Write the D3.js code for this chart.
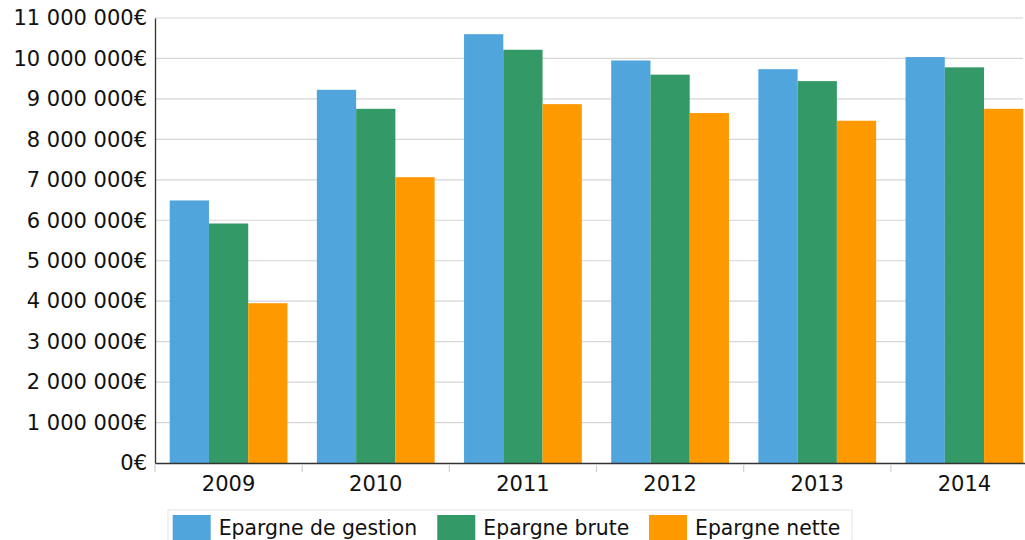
<!DOCTYPE html>
<html>
<head>
<meta charset="utf-8">
<script src="https://cdn.jsdelivr.net/npm/d3@7"></script>
<style>
  body { margin: 0; background: #fff; }
  svg { display: block; font-family: "DejaVu Sans", Verdana, sans-serif; }
</style>
</head>
<body>
<svg width="1025" height="540"></svg>
<script>
// data
var years = ["2009", "2010", "2011", "2012", "2013", "2014"];
var seriesNames = ["Epargne de gestion", "Epargne brute", "Epargne nette"];
var gestion = [6490000, 9225000, 10600000, 9950000, 9735000, 10035000];
var brute   = [5920000, 8755000, 10215000, 9600000, 9440000, 9780000];
var nette   = [3950000, 7065000, 8870000, 8650000, 8460000, 8755000];
var colors = ["#50a5dc", "#339966", "#ff9900"];
var yTicks = [0, 1e6, 2e6, 3e6, 4e6, 5e6, 6e6, 7e6, 8e6, 9e6, 10e6, 11e6];

var svg = d3.select("svg");
var plotLeft = 155, plotRight = 1038, plotTop = 18, plotBottom = 463;

var series = [gestion, brute, nette];
var rows = years.map(function(yr, i) {
  return { year: yr, values: series.map(function(s, k) { return { key: k, value: s[i] }; }) };
});

var x = d3.scaleBand().domain(years).range([plotLeft, plotRight]);
var x1 = d3.scaleBand().domain([0, 1, 2]).range([14.7, x.bandwidth() - 14.7]);
var y = d3.scaleLinear().domain([0, 11e6]).range([plotBottom, plotTop]);

function fmt(v) {
  return d3.format(",")(v).replace(/,/g, " ") + "€";
}

// grid
svg.append("g").selectAll("line")
  .data(yTicks.slice(1))
  .enter().append("line")
    .attr("x1", plotLeft).attr("x2", 1023)
    .attr("y1", function(d) { return y(d); })
    .attr("y2", function(d) { return y(d); })
    .style("stroke", "#d6d6d6")
    .style("stroke-width", 1.2);

// bars
var group = svg.append("g").selectAll("g")
  .data(rows)
  .enter().append("g")
    .attr("transform", function(d) { return "translate(" + x(d.year) + ",0)"; });

group.selectAll("rect")
  .data(function(d) { return d.values; })
  .enter().append("rect")
    .attr("x", function(d) { return x1(d.key); })
    .attr("width", x1.bandwidth())
    .attr("y", function(d) { return y(d.value); })
    .attr("height", function(d) { return plotBottom - y(d.value); })
    .style("fill", function(d) { return colors[d.key]; });

// y axis
var yAxis = svg.append("g")
  .attr("transform", "translate(" + plotLeft + ",0)")
  .call(d3.axisLeft(y).tickValues(yTicks).tickSize(0).tickPadding(8).tickFormat(fmt));
yAxis.select(".domain").style("stroke", "#333").style("stroke-width", 1.3);
yAxis.selectAll("text")
  .style("font-size", "21px")
  .style("font-family", "DejaVu Sans, sans-serif")
  .style("fill", "#111");

// x axis
var xAxis = svg.append("g")
  .attr("transform", "translate(0," + plotBottom + ")")
  .call(d3.axisBottom(x).tickSize(0).tickPadding(13));
xAxis.select(".domain").style("stroke", "#333").style("stroke-width", 1.3);
xAxis.selectAll("text")
  .style("font-size", "21px")
  .style("font-family", "DejaVu Sans, sans-serif")
  .style("fill", "#111");

// category separators under the axis
svg.append("g").selectAll("line")
  .data(years)
  .enter().append("line")
    .attr("x1", function(d) { return x(d); })
    .attr("x2", function(d) { return x(d); })
    .attr("y1", plotBottom + 1)
    .attr("y2", plotBottom + 9)
    .style("stroke", "#cfcfcf")
    .style("stroke-width", 1.2);

// legend
var legendX = [172.7, 437.3, 649];
svg.append("rect")
  .attr("x", 168).attr("y", 510)
  .attr("width", 684).attr("height", 40)
  .style("fill", "#fff")
  .style("stroke", "#e4e4e4");

var item = svg.append("g").selectAll("g")
  .data(seriesNames)
  .enter().append("g")
    .attr("transform", function(d, i) { return "translate(" + legendX[i] + ",515)"; });

item.append("rect")
  .attr("width", 38).attr("height", 26)
  .style("fill", function(d, i) { return colors[i]; });

item.append("text")
  .attr("x", 46).attr("y", 20)
  .style("font-size", "20.4px")
  .style("fill", "#111")
  .text(function(d) { return d; });
</script>
</body>
</html>
